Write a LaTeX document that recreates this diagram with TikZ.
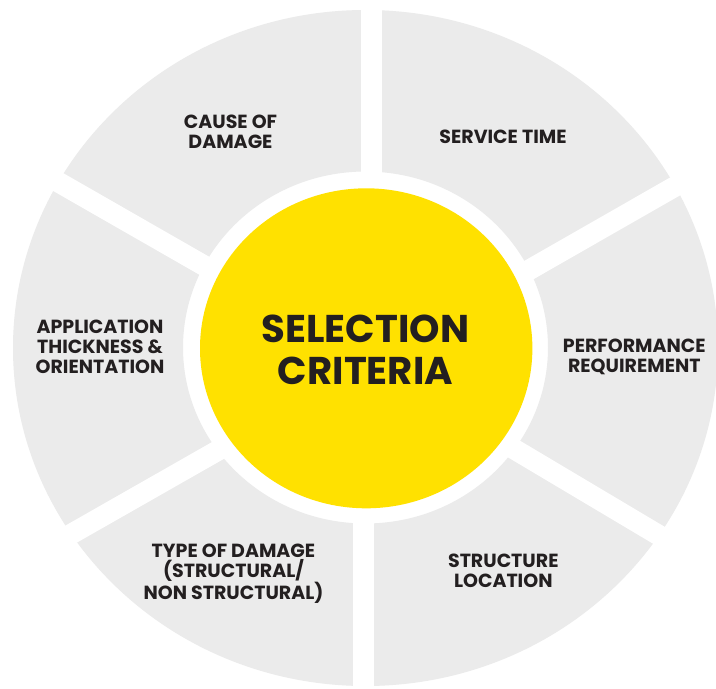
\documentclass[tikz,border=0pt]{standalone}
\usepackage{fontspec}
\setmainfont{Poppins}[BoldFont=* Bold]
\definecolor{ringgray}{HTML}{EBEBEB}
\definecolor{hubyellow}{HTML}{FFE100}
\definecolor{ink}{HTML}{231F20}
\begin{document}
\begin{tikzpicture}[x=1pt,y=-1pt,
    cutline/.style={white, line width=20.5pt},
    label/.style={text=ink, font=\bfseries\fontsize{19}{20}\selectfont, align=center, inner sep=0pt},
    title/.style={text=ink, font=\bfseries\fontsize{38.7}{42.3}\selectfont, align=center, inner sep=0pt}]
  \useasboundingbox (0,0) rectangle (716,689);
  \fill[white] (0,0) rectangle (716,689);
  % grey ring
  \fill[ringgray, even odd rule]
    (365.5,348) ellipse [x radius=352.5, y radius=338]
    (365.5,347.5) ellipse [x radius=182.5, y radius=176];
  % white separators between the six segments
  \draw[cutline] (371.7,-5) -- (371.7,230);
  \draw[cutline] (363.3,470) -- (363.3,700);
  \draw[cutline] (727,156.7) -- (479.5,298.3);
  \draw[cutline] (7,152.7) -- (255,294.8);
  \draw[cutline] (16.9,565) -- (267.9,422);
  \draw[cutline] (713.4,567.7) -- (465.2,420);
  % yellow hub
  \fill[hubyellow] (366.2,348.3) ellipse [x radius=166.2, y radius=160];
  % texts
  \node[title] (hub) at (365.5,349.5) {SELECTION\\CRITERIA};
  \node[label] (cause) at (230.5,131.7) {CAUSE OF\\DAMAGE};
  \node[label] (service) at (503,136.7) {SERVICE TIME};
  \node[label] (application) at (100,347) {APPLICATION\\THICKNESS \&\\ORIENTATION};
  \node[label] (performance) at (634.3,357) {PERFORMANCE\\REQUIREMENT};
  \node[label] (type) at (233.5,574) {TYPE OF DAMAGE\\(STRUCTURAL/\\NON STRUCTURAL)};
  \node[label] (location) at (503.3,570.7) {STRUCTURE\\LOCATION};
\end{tikzpicture}
\end{document}
